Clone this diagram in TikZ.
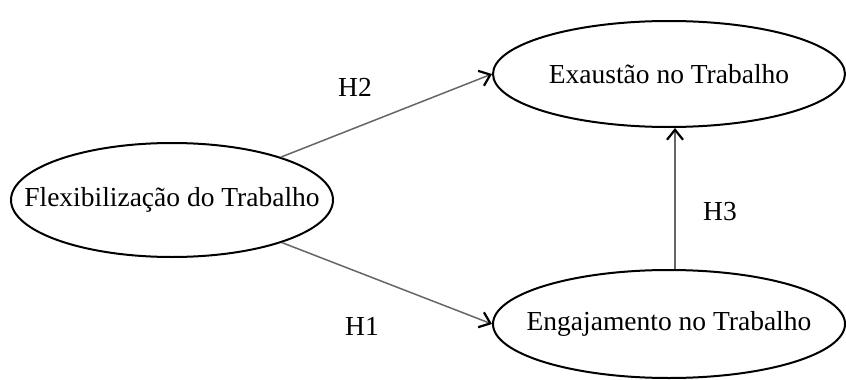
\documentclass[tikz,border=0pt]{standalone}
\usepackage{fontspec}
\setmainfont{Liberation Serif}
\usetikzlibrary{arrows.meta}
\usetikzlibrary{shapes.geometric}

\begin{document}
\begin{tikzpicture}[x=1pt,y=-1pt,
        construct/.style={ellipse,draw,line width=2pt,inner xsep=-40pt,inner ysep=0pt},
        path/.style={draw=black!60,line width=1.5pt,-{Straight Barb[length=10pt,width=16pt,line width=2.2pt,black]}},
        hyp/.style={inner sep=0pt}]
            \useasboundingbox (0,0) rectangle (846,380);
            \fontsize{27.5}{32}\selectfont

            \node[construct,minimum width=322pt,minimum height=114pt] (flex) at (172,200) {Flexibilização do Trabalho};
            \node[construct,minimum width=352pt,minimum height=106pt] (exa) at (669,74) {Exaustão no Trabalho};
            \node[construct,minimum width=352pt,minimum height=108pt] (eng) at (669,324) {Engajamento no Trabalho};

            \draw[path] (flex) -- (exa.west);
            \draw[path] (flex) -- (eng.west);
            \draw[path] ([xshift=6pt]eng.north) -- ([xshift=6pt]exa.south);

            \node[hyp] (h2) at (355,87) {H2};
            \node[hyp] (h1) at (362,326) {H1};
            \node[hyp] (h3) at (720,212) {H3};
        \end{tikzpicture}
\end{document}
